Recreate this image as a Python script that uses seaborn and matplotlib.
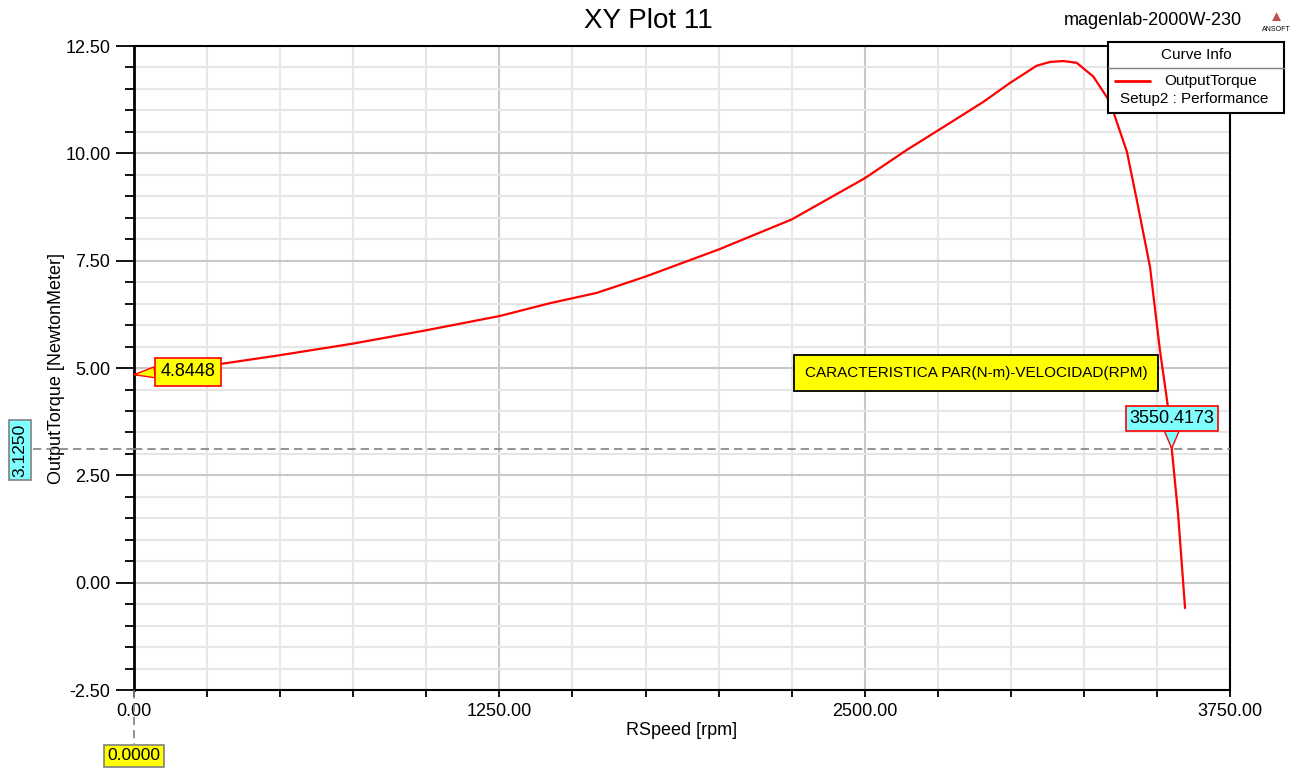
import numpy as np
import pandas as pd
import matplotlib
matplotlib.use("Agg")
import matplotlib.pyplot as plt
import seaborn as sns
from matplotlib.patches import Rectangle
from matplotlib.lines import Line2D
from matplotlib.ticker import MultipleLocator

# curve
rspeed = [0, 311, 500, 750, 1000, 1250, 1423, 1583, 1750, 2000, 2250, 2500, 2644, 2792,
          2906, 2997, 3088, 3134, 3179, 3225, 3282, 3339, 3397, 3431, 3476, 3510, 3539,
          3550.4173, 3572, 3596]
torque = [4.8448, 5.11, 5.30, 5.57, 5.88, 6.21, 6.51, 6.75, 7.13, 7.76, 8.46, 9.42, 10.08, 10.71,
          11.20, 11.64, 12.04, 12.13, 12.15, 12.11, 11.79, 11.20, 10.04, 8.91, 7.36, 5.42, 4.02,
          3.125, 1.62, -0.59]

x_ticks = [0, 1250, 2500, 3750]
y_ticks = [-2.5, 0, 2.5, 5, 7.5, 10, 12.5]
marker_y = 3.125
marker_x = 3550.4173
start_val = 4.8448

df = pd.DataFrame({"RSpeed": rspeed, "OutputTorque": torque})

sns.set_style("white")
plt.rcParams["font.family"] = ["Liberation Sans", "DejaVu Sans"]
plt.rcParams["text.color"] = "black"
plt.rcParams["axes.labelcolor"] = "black"
plt.rcParams["xtick.color"] = "black"
plt.rcParams["ytick.color"] = "black"

fig = plt.figure(figsize=(13, 7.71), dpi=100)
ax = fig.add_axes([0.1031, 0.105, 0.8431, 0.8353])

sns.lineplot(data=df, x="RSpeed", y="OutputTorque", color="red", lw=1.6, ax=ax, zorder=5)

ax.set_xlim(0, 3750)
ax.set_ylim(-2.5, 12.5)
ax.xaxis.set_major_locator(MultipleLocator(1250))
ax.xaxis.set_minor_locator(MultipleLocator(250))
ax.yaxis.set_major_locator(MultipleLocator(2.5))
ax.yaxis.set_minor_locator(MultipleLocator(0.5))
ax.set_xticks(x_ticks)
ax.set_yticks(y_ticks)
ax.set_xticklabels([f"{v:.2f}" for v in x_ticks], fontsize=13)
ax.set_yticklabels([f"{v:.2f}" for v in y_ticks], fontsize=13)

ax.grid(which="minor", color="#e6e6e6", lw=1.5)
ax.grid(which="major", color="#c8c8c8", lw=1.5)
ax.set_axisbelow(True)

ax.tick_params(axis="y", which="major", direction="out", length=13, width=1.3, left=True, pad=4)
ax.tick_params(axis="y", which="minor", direction="out", length=6.5, width=1.3, left=True)
ax.tick_params(axis="x", which="major", direction="out", length=5, width=1.3, bottom=True, pad=4)
ax.tick_params(axis="x", which="minor", direction="out", length=5, width=1.3, bottom=True)

for s in ax.spines.values():
    s.set_color("black")
    s.set_linewidth(1.5)
ax.spines["left"].set_linewidth(2)

ax.set_xlabel("RSpeed [rpm]", fontsize=13, labelpad=2)
ax.set_ylabel("OutputTorque [NewtonMeter]", fontsize=13, labelpad=0)

fig.text(0.4985, 0.973, "XY Plot 11", fontsize=20, ha="center", va="center")
fig.text(0.955, 0.973, "magenlab-2000W-230", fontsize=13, ha="right", va="center")
fig.text(0.982, 0.978, "\u25B2", fontsize=11, color="#c0504d", ha="center", va="center")
fig.text(0.982, 0.962, "ANSOFT", fontsize=5, ha="center", va="center")

# marker lines
ax.axhline(marker_y, color="#808080", ls=(0, (5, 3)), lw=1.2, zorder=3)
ax.plot([-345, 0], [marker_y, marker_y], color="#808080", ls=(0, (5, 3)), lw=1.2,
        clip_on=False, zorder=3)
ax.plot([0, 0], [-2.5, -3.75], color="#808080", ls=(0, (5, 3)), lw=1.2,
        clip_on=False, zorder=3)

fig.text(20 / 1300, 1 - 450 / 771, f"{marker_y:.4f}", rotation=90, fontsize=12.5,
         ha="center", va="center",
         bbox=dict(boxstyle="square,pad=0.2", fc="#80ffff", ec="#808080", lw=1.2))
fig.text(134 / 1300, 1 - 756 / 771, f"{0:.4f}", fontsize=12.5, ha="center", va="center",
         bbox=dict(boxstyle="square,pad=0.2", fc="yellow", ec="#808080", lw=1.2))

ax.annotate(f"{start_val:.4f}", xy=(0, start_val), xytext=(54, 3), textcoords="offset pixels",
            fontsize=13, ha="center", va="center", zorder=8, annotation_clip=False,
            bbox=dict(boxstyle="square,pad=0.3", fc="yellow", ec="red", lw=1.2),
            arrowprops=dict(arrowstyle="wedge,tail_width=0.6", fc="yellow", ec="red", lw=1,
                            relpos=(0, 0.5), shrinkA=0, shrinkB=0))
ax.annotate(f"{marker_x:.4f}", xy=(marker_x, marker_y), xytext=(0, 30), textcoords="offset pixels",
            fontsize=13, ha="center", va="center", zorder=8, annotation_clip=False,
            bbox=dict(boxstyle="square,pad=0.2", fc="#80ffff", ec="red", lw=1.2),
            arrowprops=dict(arrowstyle="wedge,tail_width=0.8", fc="#80ffff", ec="red", lw=1,
                            relpos=(0.5, 0), shrinkA=0, shrinkB=0))

fig.text(976 / 1300, 1 - 373 / 771, "CARACTERISTICA PAR(N-m)-VELOCIDAD(RPM)", fontsize=11,
         ha="center", va="center", zorder=9,
         bbox=dict(boxstyle="square,pad=0.7", fc="yellow", ec="black", lw=1.3))

# curve info box
x0, x1, y0, y1 = 1108 / 1300, 1284 / 1300, 1 - 113 / 771, 1 - 42 / 771
fig.patches.append(Rectangle((x0, y0), x1 - x0, y1 - y0, transform=fig.transFigure,
                             fc="white", ec="black", lw=1.5, zorder=10))
fig.lines.append(Line2D([x0, x1], [1 - 68 / 771] * 2, transform=fig.transFigure,
                        color="#808080", lw=1, zorder=11))
fig.lines.append(Line2D([1115 / 1300, 1150 / 1300], [1 - 81 / 771] * 2, transform=fig.transFigure,
                        color="red", lw=2, zorder=11))
fig.text(1196 / 1300, 1 - 55 / 771, "Curve Info", fontsize=11, ha="center", va="center", zorder=12)
fig.text(1211 / 1300, 1 - 81 / 771, "OutputTorque", fontsize=11, ha="center", va="center", zorder=12)
fig.text(1194 / 1300, 1 - 99 / 771, "Setup2 : Performance", fontsize=11, ha="center", va="center",
         zorder=12)

fig.savefig("out.png", dpi=100)
